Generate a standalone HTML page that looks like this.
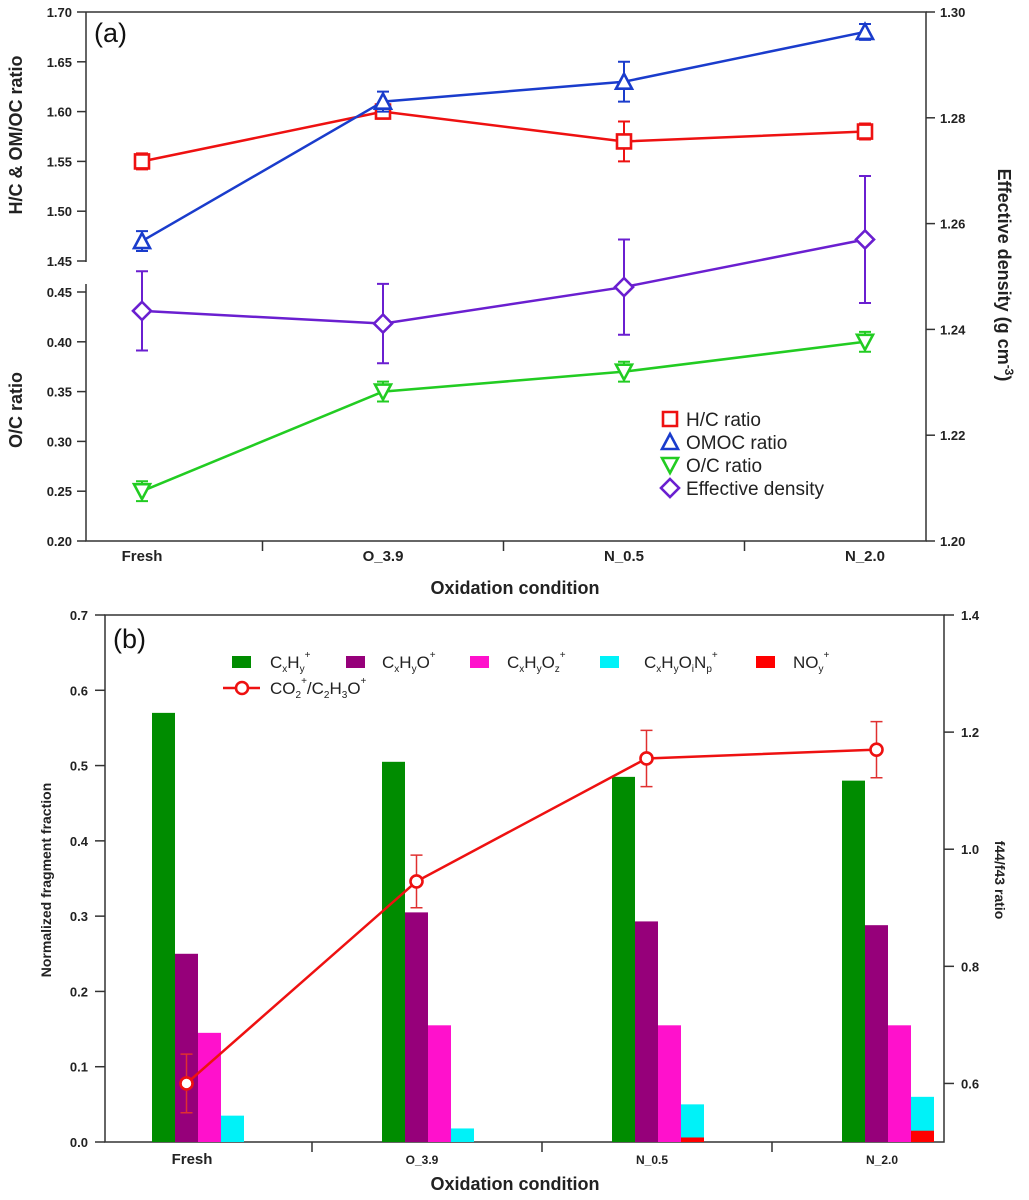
<!DOCTYPE html>
<html><head><meta charset="utf-8"><style>
html,body{margin:0;padding:0;background:#fff;width:1029px;height:1200px;overflow:hidden}
svg{display:block;font-family:"Liberation Sans",Arial,sans-serif}
</style></head><body>
<svg id="chart" width="1029" height="1200" viewBox="0 0 1029 1200"></svg>
<script>
// ---------- Panel (a) data ----------
const catsA = ["Fresh","O_3.9","N_0.5","N_2.0"];
const hcVals = [1.55,1.60,1.57,1.58];
const hcErr = [0.008,0.007,0.02,0.008];
const omocVals = [1.47,1.61,1.63,1.68];
const omocErr = [0.01,0.01,0.02,0.008];
const ocVals = [0.25,0.35,0.37,0.40];
const ocErr = [0.01,0.01,0.01,0.01];
const densVals = [1.2435,1.2411,1.248,1.257];
const densErr = [0.0075,0.0075,0.009,0.012];
const topTicks = [1.45,1.50,1.55,1.60,1.65,1.70];
const botTicks = [0.20,0.25,0.30,0.35,0.40,0.45];
const rightTicksA = [1.20,1.22,1.24,1.26,1.28,1.30];
// ---------- Panel (b) data ----------
const catsB = ["Fresh","O_3.9","N_0.5","N_2.0"];
const cxhy = [0.57,0.505,0.485,0.48];
const cxhyo = [0.25,0.305,0.293,0.288];
const cxhyoz = [0.145,0.155,0.155,0.155];
const cxhyoinp = [0.035,0.018,0.05,0.06];
const noy = [0,0,0.006,0.015];
const ratioVals = [0.60,0.945,1.155,1.17];
const ratioErr = [0.05,0.045,0.048,0.048];
const leftTicksB = [0.0,0.1,0.2,0.3,0.4,0.5,0.6,0.7];
const rightTicksB = [0.6,0.8,1.0,1.2,1.4];

const NS="http://www.w3.org/2000/svg";
const svg=document.getElementById('chart');
function mk(tag,attrs,parent,text){const e=document.createElementNS(NS,tag);for(const k in attrs)e.setAttribute(k,attrs[k]);if(text!==undefined)e.textContent=text;(parent||svg).appendChild(e);return e;}

// ===== Panel A scales =====
const aL=86,aR=926,aTop=12,aBot=541;
const aBreakTop=261,aBreakBot=292;
function yTop(v){return aTop+(1.70-v)/(0.25)*(aBreakTop-aTop);}
function yBotA(v){return aBreakBot+(0.45-v)/(0.25)*(aBot-aBreakBot);}
function yRightA(v){return aTop+(1.30-v)/(0.10)*(aBot-aTop);}
function xA(i){return 142+i*241;}

const gA=mk('g',{});

let ax=mk('path',{d:`M${aL},${aTop}V${aBreakTop+1}M${aL},${aBreakBot-8}V${aBot}H${aR}V${aTop}H${aL}`,stroke:'#333',fill:'none','stroke-width':1.5},gA);

topTicks.forEach(v=>{const y=yTop(v);mk('line',{x1:aL-9,x2:aL,y1:y,y2:y,stroke:'#333','stroke-width':1.5},gA);
 const t=mk('text',{x:aL-14,y:y+5,'text-anchor':'end','font-size':13,'font-weight':'bold',fill:'#222'},gA,v.toFixed(2));
 });
botTicks.forEach(v=>{const y=yBotA(v);mk('line',{x1:aL-9,x2:aL,y1:y,y2:y,stroke:'#333','stroke-width':1.5},gA);
 const t=mk('text',{x:aL-14,y:y+5,'text-anchor':'end','font-size':13,'font-weight':'bold',fill:'#222'},gA,v.toFixed(2));
 });
rightTicksA.forEach(v=>{const y=yRightA(v);mk('line',{x1:aR,x2:aR+9,y1:y,y2:y,stroke:'#333','stroke-width':1.5},gA);
 const t=mk('text',{x:aR+14,y:y+5,'font-size':13,'font-weight':'bold',fill:'#222'},gA,v.toFixed(2));
 });
catsA.forEach((c,i)=>{ if(i>0){const x=(xA(i)+xA(i-1))/2;mk('line',{x1:x,x2:x,y1:aBot,y2:aBot+10,stroke:'#333','stroke-width':1.5},gA);}
 const t=mk('text',{x:xA(i),y:aBot+20,'text-anchor':'middle','font-size':15,'font-weight':'bold',fill:'#222'},gA,c);
 });
let t;
t=mk('text',{x:515,y:594,'text-anchor':'middle','font-size':18,'font-weight':'bold',fill:'#222'},gA,'Oxidation condition');

t=mk('text',{transform:'translate(22,135) rotate(-90)','text-anchor':'middle','font-size':18,'font-weight':'bold',fill:'#222'},gA,'H/C & OM/OC ratio');

t=mk('text',{transform:'translate(22,410) rotate(-90)','text-anchor':'middle','font-size':18,'font-weight':'bold',fill:'#222'},gA,'O/C ratio');

t=mk('text',{transform:'translate(998,275) rotate(90)','text-anchor':'middle','font-size':18,'font-weight':'bold',fill:'#222'},gA);
t.innerHTML='Effective density (g cm<tspan dy="-7" font-size="12">-3</tspan><tspan dy="7">)</tspan>';

t=mk('text',{x:94,y:42,'font-size':27,fill:'#111'},gA,'(a)');


function marker(g,shape,x,y,col){
 const s=7;let d;
 if(shape==='sq')d=`M${x-s},${y-s}h${2*s}v${2*s}h${-2*s}Z`;
 else if(shape==='up')d=`M${x},${y-s-1}L${x+s+1},${y+s}L${x-s-1},${y+s}Z`;
 else if(shape==='dn')d=`M${x},${y+s+1}L${x+s+1},${y-s}L${x-s-1},${y-s}Z`;
 else d=`M${x},${y-s-2}L${x+s+2},${y}L${x},${y+s+2}L${x-s-2},${y}Z`;
 return mk('path',{d,fill:'#fff',stroke:col,'stroke-width':2.6},g);
}
function seriesA(vals,errs,yf,col,shape,name){
 const g=mk('g',{},gA);
 const pts=vals.map((v,i)=>[xA(i),yf(v)]);
 const ln=mk('polyline',{points:pts.map(p=>p.join(',')).join(' '),fill:'none',stroke:col,'stroke-width':2.5},g);
 
 vals.forEach((v,i)=>{const x=xA(i),y1=yf(v+errs[i]),y2=yf(v-errs[i]);
  const e=mk('path',{d:`M${x},${y1}V${y2}M${x-6},${y1}h12M${x-6},${y2}h12`,stroke:col,'stroke-width':2,fill:'none'},g);
  
  const m=marker(g,shape,x,yf(v),col);
  });
}
seriesA(densVals,densErr,yRightA,'#6a1fd0','di','effective-density');
seriesA(ocVals,ocErr,yBotA,'#22cc22','dn','oc-ratio');
seriesA(hcVals,hcErr,yTop,'#ee1111','sq','hc-ratio');
seriesA(omocVals,omocErr,yTop,'#1a3ccc','up','omoc-ratio');

// legend A
const legA=[['sq','#ee1111','H/C ratio'],['up','#1a3ccc','OMOC ratio'],['dn','#22cc22','O/C ratio'],['di','#6a1fd0','Effective density']];
const gla=mk('g',{},gA);
legA.forEach((l,i)=>{const y=419+i*23;const m=marker(gla,l[0],670,y,l[1]);
 
 const tt=mk('text',{x:686,y:y+7,'font-size':19,fill:'#222'},gla,l[2]);});

// ===== Panel B =====
const bL=105,bR=944,bTop=615,bBot=1142;
function yB(v){return bBot-v/0.7*(bBot-bTop);}
function yBR(v){return bBot-(v-0.5)/0.9*(bBot-bTop);}
const barW=23;
function gStart(i){return 152+i*230;}
const gB=mk('g',{});
ax=mk('path',{d:`M${bL},${bTop}V${bBot}H${bR}V${bTop}Z`,stroke:'#333',fill:'none','stroke-width':1.5},gB);

leftTicksB.forEach(v=>{const y=yB(v);mk('line',{x1:bL-10,x2:bL,y1:y,y2:y,stroke:'#333','stroke-width':1.5},gB);
 const tt=mk('text',{x:bL-17,y:y+5,'text-anchor':'end','font-size':13,'font-weight':'bold',fill:'#222'},gB,v.toFixed(1));
 });
rightTicksB.forEach(v=>{const y=yBR(v);mk('line',{x1:bR,x2:bR+10,y1:y,y2:y,stroke:'#333','stroke-width':1.5},gB);
 const tt=mk('text',{x:bR+17,y:y+5,'font-size':13,'font-weight':'bold',fill:'#222'},gB,v.toFixed(1));
 });
catsB.forEach((c,i)=>{ if(i>0){const x=gStart(i)-70;mk('line',{x1:x,x2:x,y1:bBot,y2:bBot+10,stroke:'#333','stroke-width':1.5},gB);}
 const tt=mk('text',{x:gStart(i)+40,y:bBot+22,'text-anchor':'middle','font-size':i===0?15:12,'font-weight':'bold',fill:'#222'},gB,c);
 });
t=mk('text',{x:515,y:1190,'text-anchor':'middle','font-size':18,'font-weight':'bold',fill:'#222'},gB,'Oxidation condition');

t=mk('text',{transform:'translate(51,880) rotate(-90)','text-anchor':'middle','font-size':14,'font-weight':'bold',fill:'#222'},gB,'Normalized fragment fraction');

t=mk('text',{transform:'translate(995,880) rotate(90)','text-anchor':'middle','font-size':14,'font-weight':'bold',fill:'#222'},gB,'f44/f43 ratio');

t=mk('text',{x:113,y:648,'font-size':27,fill:'#111'},gB,'(b)');


const barSeries=[[cxhy,'#008c00',0,'cxhy'],[cxhyo,'#96007a',1,'cxhyo'],[cxhyoz,'#ff11cc',2,'cxhyoz'],[cxhyoinp,'#00f2f8',3,'cxhyoinp'],[noy,'#ff0000',3,'noy']];
barSeries.forEach(s=>{s[0].forEach((v,i)=>{const x=gStart(i)+s[2]*barW;const y=yB(v);
 const r=mk('rect',{x,y,width:barW,height:Math.max(0,bBot-y),fill:s[1]},gB);
 });});
const gr=mk('g',{},gB);
const rx=i=>gStart(i)+barW*1.5;
const rl=mk('polyline',{points:ratioVals.map((v,i)=>rx(i)+','+yBR(v)).join(' '),fill:'none',stroke:'#ee1111','stroke-width':2.5},gr);

ratioVals.forEach((v,i)=>{const x=rx(i),y1=yBR(v+ratioErr[i]),y2=yBR(v-ratioErr[i]);
 const e=mk('path',{d:`M${x},${y1}V${y2}M${x-6},${y1}h12M${x-6},${y2}h12`,stroke:'#e03030','stroke-width':1.5,fill:'none'},gr);
 
 const c=mk('circle',{cx:x,cy:yBR(v),r:6,fill:'#fff',stroke:'#ee1111','stroke-width':2.6},gr);
 });

const glb=mk('g',{},gB);
const legB=[[232,'#008c00',270,'C<tspan font-size="10" dy="4">x</tspan><tspan dy="-4">H</tspan><tspan font-size="10" dy="4">y</tspan><tspan font-size="10" dy="-14">+</tspan>'],
 [346,'#96007a',382,'C<tspan font-size="10" dy="4">x</tspan><tspan dy="-4">H</tspan><tspan font-size="10" dy="4">y</tspan><tspan dy="-4">O</tspan><tspan font-size="10" dy="-10">+</tspan>'],
 [470,'#ff11cc',507,'C<tspan font-size="10" dy="4">x</tspan><tspan dy="-4">H</tspan><tspan font-size="10" dy="4">y</tspan><tspan dy="-4">O</tspan><tspan font-size="10" dy="4">z</tspan><tspan font-size="10" dy="-14">+</tspan>'],
 [600,'#00f2f8',644,'C<tspan font-size="10" dy="4">x</tspan><tspan dy="-4">H</tspan><tspan font-size="10" dy="4">y</tspan><tspan dy="-4">O</tspan><tspan font-size="10" dy="4">i</tspan><tspan dy="-4">N</tspan><tspan font-size="10" dy="4">p</tspan><tspan font-size="10" dy="-14">+</tspan>'],
 [756,'#ff0000',793,'NO<tspan font-size="10" dy="4">y</tspan><tspan font-size="10" dy="-14">+</tspan>']];
legB.forEach(l=>{const r=mk('rect',{x:l[0],y:656,width:19,height:12,fill:l[1]},glb);
 
 const tt=mk('text',{x:l[2],y:668,'font-size':17,fill:'#222'},glb);tt.innerHTML=l[3];
 });
mk('line',{x1:223,x2:260,y1:688,y2:688,stroke:'#ee1111','stroke-width':2.5},glb);
mk('circle',{cx:242,cy:688,r:6,fill:'#fff',stroke:'#ee1111','stroke-width':2.6},glb);
t=mk('text',{x:270,y:694,'font-size':17,fill:'#222'},glb);
t.innerHTML='CO<tspan font-size="10" dy="4">2</tspan><tspan font-size="10" dy="-14">+</tspan><tspan dy="10">/C</tspan><tspan font-size="10" dy="4">2</tspan><tspan dy="-4">H</tspan><tspan font-size="10" dy="4">3</tspan><tspan dy="-4">O</tspan><tspan font-size="10" dy="-10">+</tspan>';

</script>
</body></html>
